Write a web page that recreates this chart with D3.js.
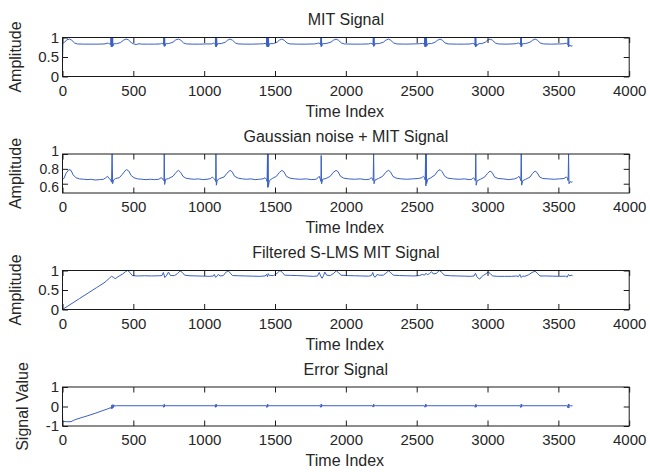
<!DOCTYPE html>
<html><head><meta charset="utf-8">
<script src="https://cdn.jsdelivr.net/npm/d3@7"></script>
<style>
body{margin:0;background:#fff;}
svg text{font-family:"Liberation Sans",Arial,sans-serif;fill:#262626;}
</style></head>
<body><svg id="c" width="650" height="472"></svg>
<script>
// ---- data ----
const xTicks = [0,500,1000,1500,2000,2500,3000,3500,4000];
const titles = ["MIT Signal","Gaussian noise + MIT Signal","Filtered S-LMS MIT Signal","Error Signal"];
const yLabels = ["Amplitude","Amplitude","Amplitude","Signal Value"];
const yDomains = [[0,1],[0.475,1],[0,1],[-1,1]];
const yTicks = [[0,0.5,1],[0.6,0.8,1],[0,0.5,1],[-1,0,1]];
const yTickLabels = [["0","0.5","1"],["0.6","0.8","1"],["0","0.5","1"],["-1","0","1"]];

const mitSignal = [[0,0.35],[3,0.84],[15,0.88],[30,0.94],[50,0.96],[65,0.93],[85,0.86],[105,0.835],[150,0.83],[200,0.83],[250,0.83],[300,0.835],[315,0.855],[325,0.85],[335,0.83],
[340,0.82],[342,1.0],[344,0.76],[346,1.0],[348,0.76],[350,1.0],[352,0.77],[354,1.0],[356,0.78],[360,0.84],
[380,0.84],[410,0.87],[430,0.93],[450,0.96],[465,0.94],[485,0.87],[500,0.84],[520,0.82],[540,0.84],[560,0.83],[600,0.83],[650,0.83],[690,0.835],[700,0.85],[708,0.84],
[712,0.82],[715,1.0],[718,0.77],[721,1.0],[724,0.78],[728,0.84],
[750,0.845],[780,0.88],[800,0.94],[818,0.96],[835,0.93],[855,0.86],[875,0.835],[920,0.83],[970,0.83],[1020,0.835],[1055,0.835],[1065,0.855],[1073,0.84],
[1078,0.82],[1080,1.0],[1082,0.76],[1084,1.0],[1086,0.76],[1088,0.98],[1091,0.8],[1095,0.84],
[1120,0.845],[1150,0.88],[1165,0.93],[1183,0.96],[1200,0.93],[1220,0.86],[1240,0.835],[1290,0.83],[1340,0.83],[1390,0.835],[1420,0.84],[1430,0.85],[1437,0.835],
[1440,0.8],[1442,1.0],[1444,0.76],[1446,1.0],[1448,0.76],[1450,1.0],[1452,0.76],[1454,1.0],[1456,0.77],[1460,0.84],
[1490,0.845],[1515,0.88],[1530,0.93],[1548,0.96],[1565,0.93],[1585,0.86],[1605,0.835],[1660,0.83],[1720,0.83],[1780,0.835],[1800,0.85],[1810,0.86],[1818,0.84],
[1822,0.81],[1824,1.0],[1826,0.76],[1828,1.0],[1830,0.78],[1834,0.84],
[1860,0.845],[1895,0.88],[1912,0.93],[1931,0.96],[1948,0.93],[1968,0.86],[1990,0.835],[2050,0.83],[2110,0.83],[2160,0.835],[2175,0.85],[2185,0.84],
[2191,0.82],[2194,1.0],[2196,0.77],[2199,1.0],[2202,0.79],[2206,0.84],
[2235,0.845],[2265,0.88],[2282,0.93],[2300,0.96],[2317,0.93],[2337,0.86],[2360,0.835],[2420,0.83],[2480,0.835],[2520,0.84],[2540,0.85],[2552,0.84],
[2555,0.8],[2557,1.0],[2559,0.76],[2561,1.0],[2563,0.76],[2565,1.0],[2567,0.77],[2569,1.0],[2572,0.79],[2578,0.84],
[2605,0.845],[2630,0.88],[2648,0.93],[2665,0.96],[2682,0.93],[2700,0.86],[2722,0.835],[2780,0.83],[2840,0.83],[2880,0.835],[2895,0.85],[2905,0.84],
[2911,0.8],[2913,1.0],[2915,0.76],[2917,1.0],[2920,0.77],[2924,0.83],[2930,0.8],[2936,0.84],
[2960,0.845],[2985,0.88],[3000,0.93],[3018,0.96],[3035,0.93],[3055,0.86],[3075,0.835],[3130,0.83],[3180,0.835],[3205,0.845],[3218,0.86],[3228,0.84],
[3233,0.81],[3235,1.0],[3237,0.76],[3239,1.0],[3241,0.77],[3245,0.84],
[3270,0.845],[3300,0.88],[3318,0.93],[3336,0.96],[3352,0.93],[3372,0.86],[3395,0.835],[3450,0.83],[3510,0.835],[3540,0.84],[3555,0.855],[3563,0.84],
[3567,0.81],[3569,1.0],[3571,0.76],[3573,1.0],[3575,0.77],[3580,0.8],[3590,0.78],[3600,0.79]];

const noisySignal = [[0,0.66],[10,0.67],[25,0.74],[45,0.79],[60,0.78],[75,0.72],[95,0.68],[120,0.665],[150,0.66],[180,0.655],[200,0.66],[230,0.65],[260,0.655],[290,0.66],[305,0.68],[318,0.70],[328,0.67],[340,0.655],[346,0.62],[350,1.0],[354,0.6],[360,0.65],
[375,0.67],[400,0.68],[420,0.72],[440,0.77],[453,0.79],[468,0.77],[485,0.71],[505,0.68],[530,0.665],[560,0.66],[590,0.655],[620,0.66],[650,0.655],[680,0.66],[695,0.68],[703,0.675],[712,0.65],[716,0.64],[718,1.0],[721,0.59],[728,0.66],
[750,0.67],[780,0.7],[800,0.75],[818,0.78],[835,0.75],[850,0.70],[870,0.675],[900,0.665],[930,0.66],[960,0.665],[990,0.655],[1020,0.66],[1045,0.67],[1058,0.69],[1068,0.67],[1078,0.65],[1081,0.63],[1083,1.0],[1086,0.58],[1093,0.65],
[1110,0.67],[1140,0.69],[1160,0.74],[1183,0.78],[1198,0.76],[1215,0.7],[1240,0.675],[1270,0.665],[1300,0.66],[1330,0.665],[1360,0.655],[1390,0.66],[1415,0.665],[1430,0.68],[1440,0.66],[1444,0.63],[1447,1.0],[1449,0.55],[1451,1.0],[1453,0.56],[1460,0.64],
[1480,0.67],[1510,0.7],[1530,0.75],[1548,0.78],[1563,0.76],[1580,0.7],[1605,0.675],[1640,0.665],[1680,0.66],[1720,0.665],[1760,0.655],[1790,0.66],[1803,0.68],[1812,0.7],[1820,0.66],[1824,0.63],[1826,0.98],[1829,0.6],[1836,0.66],
[1860,0.67],[1890,0.7],[1910,0.75],[1931,0.78],[1946,0.76],[1962,0.7],[1985,0.675],[2020,0.665],[2060,0.66],[2100,0.665],[2140,0.655],[2165,0.66],[2178,0.68],[2188,0.67],[2193,0.64],[2196,1.0],[2199,0.6],[2206,0.65],
[2230,0.67],[2260,0.7],[2280,0.75],[2300,0.78],[2315,0.76],[2332,0.7],[2355,0.675],[2390,0.665],[2430,0.66],[2470,0.665],[2510,0.67],[2535,0.68],[2548,0.7],[2556,0.68],[2560,0.65],[2563,1.0],[2565,0.57],[2567,1.0],[2570,0.6],[2578,0.66],
[2600,0.68],[2630,0.72],[2648,0.77],[2665,0.79],[2680,0.76],[2698,0.7],[2720,0.675],[2760,0.665],[2800,0.66],[2840,0.665],[2870,0.655],[2890,0.66],[2900,0.68],[2908,0.67],[2914,0.64],[2917,1.0],[2920,0.58],[2927,0.64],
[2950,0.66],[2980,0.69],[3000,0.74],[3018,0.77],[3033,0.75],[3050,0.69],[3075,0.67],[3110,0.665],[3150,0.655],[3190,0.665],[3210,0.68],[3222,0.7],[3230,0.67],[3235,0.64],[3238,1.0],[3241,0.58],[3248,0.64],
[3270,0.66],[3300,0.69],[3318,0.74],[3336,0.77],[3350,0.75],[3368,0.69],[3390,0.67],[3430,0.665],[3470,0.66],[3510,0.665],[3540,0.67],[3555,0.69],[3564,0.68],[3569,0.64],[3572,1.0],[3575,0.6],[3582,0.63],[3590,0.62],[3600,0.625]];

const filteredSignal = [[0,0.0],[60,0.14],[120,0.28],[180,0.42],[240,0.56],[300,0.7],[330,0.8],[345,0.85],[358,0.83],[372,0.79],[388,0.83],[405,0.87],[425,0.91],[445,0.97],[460,1.0],[476,0.95],[492,0.87],[530,0.86],[580,0.865],[630,0.86],[680,0.865],
[702,0.87],[712,0.95],[722,0.82],[736,0.88],[748,0.96],[762,0.87],[790,0.87],[812,0.92],[830,0.99],[846,0.95],[862,0.88],[900,0.865],[950,0.86],[1000,0.855],[1040,0.85],[1065,0.86],
[1072,0.9],[1080,0.83],[1090,0.85],[1100,0.9],[1112,0.86],[1135,0.87],[1155,0.96],[1170,0.99],[1185,0.93],[1200,0.87],[1240,0.865],[1290,0.86],[1340,0.855],[1390,0.85],[1430,0.86],
[1440,0.9],[1447,0.84],[1452,0.92],[1460,0.87],[1490,0.87],[1515,0.93],[1535,1.0],[1552,0.95],[1568,0.88],[1610,0.875],[1660,0.87],[1720,0.86],[1770,0.85],[1800,0.86],
[1812,0.95],[1822,0.86],[1832,0.8],[1842,0.87],[1852,0.96],[1864,0.88],[1890,0.87],[1915,0.93],[1933,0.99],[1950,0.94],[1965,0.88],[2010,0.87],[2060,0.865],[2110,0.86],[2160,0.855],
[2180,0.87],[2190,0.95],[2198,0.85],[2208,0.83],[2220,0.9],[2235,0.88],[2265,0.88],[2285,0.94],[2302,0.99],[2318,0.94],[2335,0.88],[2380,0.87],[2430,0.865],[2480,0.86],[2520,0.87],[2540,0.9],
[2555,0.88],[2565,0.93],[2575,0.89],[2590,0.92],[2605,0.97],[2618,0.91],[2640,0.93],[2660,1.0],[2678,0.95],[2695,0.88],[2740,0.865],[2790,0.86],[2840,0.855],[2880,0.85],[2905,0.86],
[2915,0.93],[2925,0.84],[2935,0.8],[2945,0.78],[2958,0.84],[2970,0.87],[2990,0.92],[3005,0.96],[3020,0.92],[3035,0.86],[3070,0.85],[3120,0.85],[3170,0.85],[3205,0.86],
[3218,0.84],[3228,0.9],[3238,0.82],[3248,0.86],[3262,0.85],[3290,0.89],[3315,0.95],[3336,0.98],[3352,0.93],[3370,0.86],[3410,0.86],[3460,0.855],[3510,0.85],[3550,0.855],
[3562,0.83],[3572,0.9],[3580,0.86],[3590,0.88],[3600,0.87]];

const errorSignal = [[0,-0.28],[1,-0.76],[30,-0.78],[60,-0.78],[75,-0.72],[95,-0.66],[130,-0.58],[180,-0.47],[230,-0.35],[280,-0.22],[320,-0.12],[340,-0.06],[345,-0.12],[348,0.08],[352,-0.1],[356,0.1],[360,-0.05],[364,0.08],[368,0.02],[380,0.04],
[710,0.04],[714,-0.04],[718,0.12],[720,-0.02],[722,0.08],[728,0.04],
[1075,0.04],[1079,-0.04],[1083,0.12],[1085,-0.03],[1088,0.1],[1093,0.04],
[1440,0.04],[1443,-0.05],[1447,0.12],[1449,-0.02],[1452,0.08],[1458,0.04],
[1818,0.04],[1822,-0.04],[1826,0.13],[1829,-0.03],[1832,0.08],[1838,0.04],
[2188,0.04],[2192,-0.03],[2196,0.12],[2199,0.0],[2204,0.07],[2210,0.04],
[2555,0.04],[2559,-0.04],[2563,0.12],[2566,-0.02],[2569,0.09],[2575,0.04],
[2909,0.04],[2913,-0.04],[2917,0.11],[2920,-0.03],[2924,0.08],[2930,0.04],
[3230,0.04],[3234,-0.05],[3238,0.13],[3241,-0.03],[3244,0.09],[3250,0.04],
[3563,0.04],[3567,-0.06],[3571,0.13],[3574,-0.08],[3577,0.1],[3585,0.03],[3600,0.04]];

const series = [mitSignal, noisySignal, filteredSignal, errorSignal];

// ---- layout ----
const svg = d3.select("#c");
const left = 62.5, right = 629.2, panelH = 39;
const tops = [37.5, 154, 270.5, 387];
const lineColor = "#3a60c6";
const axisColor = "#1a1a1a";

const x = d3.scaleLinear().domain([0,4000]).range([left,right]);

series.forEach((data,i)=>{
  const top = tops[i], bottom = top+panelH;
  const y = d3.scaleLinear().domain(yDomains[i]).range([bottom,top]);
  const g = svg.append("g");

  // data line
  g.append("path").datum(data)
    .attr("fill","none").attr("stroke",lineColor).attr("stroke-width",1)
    .attr("stroke-linejoin","round")
    .attr("d", d3.line().x(d=>x(d[0])).y(d=>y(d[1])));

  // axes
  const ax = g.append("g").attr("transform",`translate(0,${bottom})`)
    .call(d3.axisBottom(x).tickValues(xTicks).tickFormat(d3.format("d")).tickSizeInner(-5.5).tickSizeOuter(0).tickPadding(8.5));
  const axt = g.append("g").attr("transform",`translate(0,${top})`)
    .call(d3.axisTop(x).tickValues(xTicks).tickFormat("").tickSizeInner(-5.5).tickSizeOuter(0));
  const ay = g.append("g").attr("transform",`translate(${left},0)`)
    .call(d3.axisLeft(y).tickValues(yTicks[i]).tickFormat((d,j)=>yTickLabels[i][j]).tickSizeInner(-5.5).tickSizeOuter(0).tickPadding(3.5));
  const ayr = g.append("g").attr("transform",`translate(${right},0)`)
    .call(d3.axisRight(y).tickValues(yTicks[i]).tickFormat("").tickSizeInner(-5.5).tickSizeOuter(0));
  [ax,axt,ay,ayr].forEach(a=>{
    a.select(".domain").remove();
    a.selectAll("line").attr("stroke",axisColor);
    a.selectAll("text").attr("font-size",15).attr("font-family",null).attr("fill","#262626");
  });
  if (i===1) {
    // closely stacked labels: slightly smaller and nudged apart so they do not collide
    ay.selectAll("text").attr("font-size",14)
      .attr("dy",(d)=> d===0.6 ? "0.55em" : (d===0.8 ? "0.35em" : "0.12em"));
  }

  g.append("rect").attr("x",left).attr("y",top).attr("width",right-left).attr("height",panelH)
    .attr("fill","none").attr("stroke",axisColor).attr("stroke-width",1);

  // title
  g.append("text").attr("x",(left+right)/2).attr("y",top-12.5).attr("text-anchor","middle")
    .attr("font-size",16).text(titles[i]);
  // x label
  g.append("text").attr("x",(left+right)/2 - 1).attr("y",bottom+40).attr("text-anchor","middle")
    .attr("font-size",16).text("Time Index");
  // y label
  const lx = i===3 ? 28 : 21;
  g.append("text").attr("transform",`translate(${lx},${(top+bottom)/2}) rotate(-90)`)
    .attr("text-anchor","middle").attr("font-size",16).text(yLabels[i]);
});
</script></body></html>
